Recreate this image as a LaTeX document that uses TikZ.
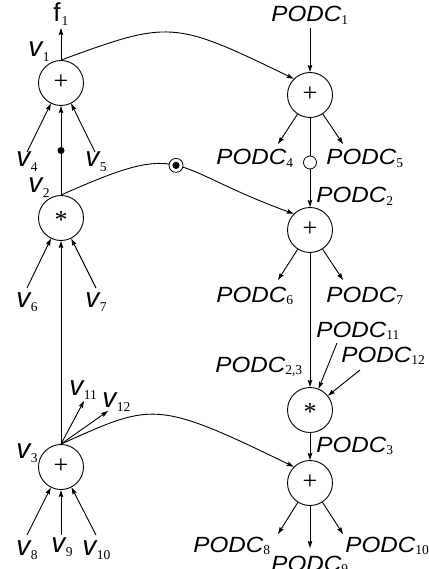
\documentclass[tikz,border=0pt]{standalone}
\usepackage{fontspec}
\usetikzlibrary{arrows.meta}
\newfontfamily\podcf[FakeStretch=1.1]{Liberation Sans}
\newfontfamily\subf{Liberation Serif}
\newfontfamily\vfont{Liberation Sans}
\newcommand\PD[1]{{\podcf\itshape\fontsize{22}{22}\selectfont PODC}\raisebox{-2.5pt}{\subf\fontsize{13.5}{13.5}\selectfont #1}}
\newcommand\VV[1]{{\vfont\itshape\fontsize{28}{28}\selectfont v}\kern0.5pt\raisebox{-4.5pt}{\subf\fontsize{13.5}{13.5}\selectfont #1}}
\newcommand\FF[1]{{\vfont\fontsize{26}{26}\selectfont f}\kern1pt\raisebox{-4pt}{\subf\fontsize{13.5}{13.5}\selectfont #1}}
\begin{document}
\begin{tikzpicture}[x=1pt,y=1pt,line width=0.9pt,
  op/.style={circle,draw,minimum size=45pt,inner sep=0pt,text height=0pt,text depth=0pt,font=\subf\fontsize{26}{26}\selectfont},
  lab/.style={anchor=base west,inner sep=0pt},
  arr/.style={-{Stealth[length=7pt,width=4.5pt,inset=1pt]}},
  dotm/.style={circle,fill,inner sep=0pt,minimum size=7pt},
  holm/.style={circle,draw,fill=white,inner sep=0pt,minimum size=13pt,line width=0.8pt},
  dotmark/.style={circle,draw,fill=white,inner sep=0pt,minimum size=14pt,line width=0.8pt,
    path picture={\fill[black] (path picture bounding box.center) circle (3.6pt);}}]
\useasboundingbox (0,0) rectangle (428,-569);
% operator nodes
\node[op] (v1) at (61,-83) {\raisebox{-6.6pt}{+}};
\node[op] (v2) at (61,-218) {\raisebox{-10.2pt}{*}};
\node[op] (v3) at (61,-467) {\raisebox{-6.6pt}{+}};
\node[op] (r1) at (310,-95) {\raisebox{-6.6pt}{+}};
\node[op] (r2) at (310,-230) {\raisebox{-6.6pt}{+}};
\node[op] (r3) at (310,-410) {\raisebox{-10.2pt}{*}};
\node[op] (r4) at (310,-483) {\raisebox{-6.6pt}{+}};
% labels left
\node[lab] (lf1) at (53,-22) {\FF{1}};
\node[lab] (lv1) at (28,-57) {\VV{1}};
\node[lab] (lv4) at (16,-167) {\VV{4}};
\node[lab] (lv5) at (85,-167) {\VV{5}};
\node[lab] (lv2) at (28,-193) {\VV{2}};
\node[lab] (lv6) at (16,-307) {\VV{6}};
\node[lab] (lv7) at (85,-307) {\VV{7}};
\node[lab] (lv3) at (16,-458) {\VV{3}};
\node[lab] (lv11) at (69,-395) {\VV{11}};
\node[lab] (lv12) at (102,-407) {\VV{12}};
\node[lab] (lv8) at (16,-555) {\VV{8}};
\node[lab] (lv9) at (51,-552) {\VV{9}};
\node[lab] (lv10) at (82,-555) {\VV{10}};
% labels right
\node[lab] (lp1) at (271,-22) {\PD{1}};
\node[lab] (lp4) at (216,-165) {\PD{4}};
\node[lab] (lp5) at (326,-165) {\PD{5}};
\node[lab] (lp2) at (316,-203) {\PD{2}};
\node[lab] (lp6) at (216,-302) {\PD{6}};
\node[lab] (lp7) at (326,-302) {\PD{7}};
\node[lab] (lp11) at (316,-337) {\PD{11}};
\node[lab] (lp12) at (341,-362) {\PD{12}};
\node[lab] (lp23) at (215,-372) {\PD{2,3}};
\node[lab] (lp3) at (316,-452) {\PD{3}};
\node[lab] (lp8) at (193,-552) {\PD{8}};
\node[lab] (lp9) at (271,-571) {\PD{9}};
\node[lab] (lp10) at (345,-552) {\PD{10}};
% free ends
\coordinate (ftip) at (61,-28);
\coordinate (t4) at (27,-152);
\coordinate (t5) at (95,-152);
\coordinate (t6) at (27,-288);
\coordinate (t7) at (96,-288);
\coordinate (t8) at (27,-535);
\coordinate (t9) at (61,-535);
\coordinate (t10) at (96,-535);
\coordinate (t11) at (84,-401);
\coordinate (t12) at (108,-411);
\coordinate (p1) at (310,-28);
\coordinate (p4) at (278,-144);
\coordinate (p5) at (343,-144);
\coordinate (p6) at (278,-280);
\coordinate (p7) at (343,-280);
\coordinate (p11) at (337,-343);
\coordinate (p12) at (360,-370);
\coordinate (p8) at (278,-534);
\coordinate (p9) at (310,-548);
\coordinate (p10) at (343,-534);
% left edges
\draw[arr] (v1) -- (ftip);
\draw[arr] (v2) -- node[dotm] (d1) {} (v1);
\draw[arr] (v3) -- (v2);
\draw[arr] (t4) -- (v1);
\draw[arr] (t5) -- (v1);
\draw[arr] (t6) -- (v2);
\draw[arr] (t7) -- (v2);
\draw[arr] (t8) -- (v3);
\draw[arr] (t9) -- (v3);
\draw[arr] (t10) -- (v3);
\draw[arr] (v3.north) -- (t11);
\draw[arr] (v3.north) -- (t12);
% curves
\draw[arr] (v1.north) .. controls +(20:115) and +(154:135) .. (r1.135);
\draw[arr] (v2.north) .. controls +(24:139) and +(160:139) .. (r2.135) node[pos=0.5,dotmark] (m1) {};
\draw[arr] (v3.north) .. controls +(24:100) and +(154:155) .. (r4.135);
% right edges
\draw[arr] (p1) -- (r1);
\draw[arr] (r1) -- (p4);
\draw[arr] (r1) -- (p5);
\draw[arr] (r1) -- node[holm] (h1) {} (r2);
\draw[arr] (r2) -- (p6);
\draw[arr] (r2) -- (p7);
\draw[arr] (r2) -- (r3);
\draw[arr] (p11) -- (r3);
\draw[arr] (p12) -- (r3);
\draw[arr] (r3) -- (r4);
\draw[arr] (r4) -- (p8);
\draw[arr] (r4) -- (p9);
\draw[arr] (r4) -- (p10);
\end{tikzpicture}
\end{document}
